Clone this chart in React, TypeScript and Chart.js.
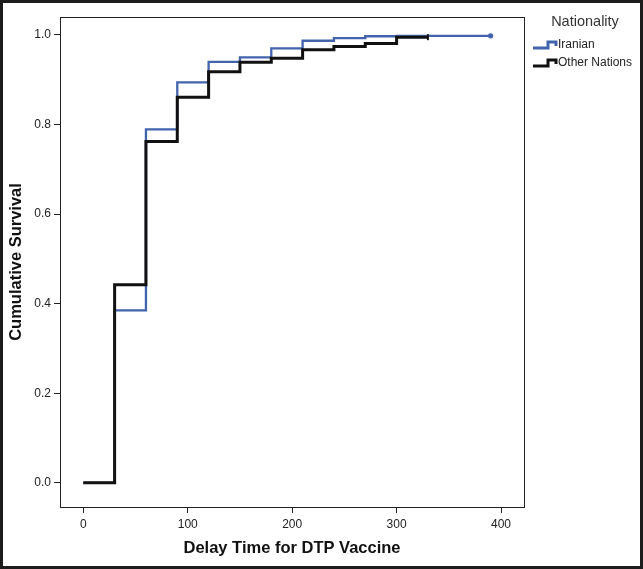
import React, { useEffect, useRef } from "react";
import { Chart, registerables } from "chart.js";

Chart.register(...registerables);

// Event times (days) at which survival steps occur
const stepTimes = [0, 30, 60, 90, 120, 150, 180, 210, 240, 270, 300];
const iranianSurvival = [0, 0.385, 0.789, 0.894, 0.94, 0.95, 0.97, 0.987, 0.993, 0.997, 0.998];
const iranianEndTime = 390;
const otherSurvival = [0, 0.442, 0.762, 0.861, 0.918, 0.939, 0.948, 0.967, 0.974, 0.981, 0.995];
const otherEndTime = 330;

const seriesNames = ["Iranian", "Other Nations"];
const seriesColors = ["#4264ad", "#111111"];
const legendTitle = "Nationality";

const xTickValues = [0, 100, 200, 300, 400];
const yTickValues = [0, 0.2, 0.4, 0.6, 0.8, 1.0];
const xTitle = "Delay Time for DTP Vaccine";
const yTitle = "Cumulative Survival";

function buildPoints(values: number[], endTime: number) {
  const pts = stepTimes.map((t, i) => ({ x: t, y: values[i] }));
  pts.push({ x: endTime, y: values[values.length - 1] });
  return pts;
}

const framePlugin = {
  id: "frameAndLegend",
  afterDatasetsDraw(chart: any) {
    const { ctx, chartArea } = chart;
    ctx.save();
    ctx.strokeStyle = "#222";
    ctx.lineWidth = 1;
    ctx.strokeRect(
      Math.round(chartArea.left) + 0.5,
      Math.round(chartArea.top) + 0.5,
      Math.round(chartArea.right - chartArea.left),
      Math.round(chartArea.bottom - chartArea.top)
    );
    ctx.restore();
  },
  afterDraw(chart: any) {
    const { ctx } = chart;
    ctx.save();
    ctx.fillStyle = "#333";
    ctx.font = "14.5px 'Liberation Sans', Arial, sans-serif";
    ctx.textAlign = "center";
    ctx.textBaseline = "middle";
    ctx.fillText(legendTitle, 582, 19);
    const rows = [42, 60];
    seriesNames.forEach((name, i) => {
      const y = rows[i];
      ctx.strokeStyle = seriesColors[i];
      ctx.lineWidth = 3;
      ctx.beginPath();
      ctx.moveTo(530, y + 3);
      ctx.lineTo(545, y + 3);
      ctx.lineTo(545, y - 3);
      ctx.lineTo(553, y - 3);
      ctx.lineTo(553, y + 1);
      ctx.stroke();
      ctx.fillStyle = "#222";
      ctx.font = "12px 'Liberation Sans', Arial, sans-serif";
      ctx.textAlign = "left";
      ctx.fillText(name, 555, y);
    });
    ctx.restore();
  },
};

export default function App() {
  const canvasRef = useRef<HTMLCanvasElement | null>(null);

  useEffect(() => {
    document.body.style.margin = "0";
    const canvas = canvasRef.current;
    if (!canvas) return;
    const iranianPts = buildPoints(iranianSurvival, iranianEndTime);
    const otherPts = buildPoints(otherSurvival, otherEndTime);
    const chart = new Chart(canvas, {
      type: "line",
      data: {
        datasets: [
          {
            label: seriesNames[1],
            data: otherPts,
            borderColor: seriesColors[1],
            backgroundColor: seriesColors[1],
            borderWidth: 3,
            stepped: "before",
            fill: false,
            pointStyle: "line",
            rotation: 90,
            pointRadius: otherPts.map((_, i) => (i === otherPts.length - 1 ? 3 : 0)),
            pointBorderWidth: 2,
          },
          {
            label: seriesNames[0],
            data: iranianPts,
            borderColor: seriesColors[0],
            backgroundColor: seriesColors[0],
            borderWidth: 2.3,
            stepped: "before",
            fill: false,
            pointRadius: iranianPts.map((_, i) => (i === iranianPts.length - 1 ? 1.5 : 0)),
          },
        ],
      },
      options: {
        responsive: false,
        animation: false,
        maintainAspectRatio: false,
        layout: { padding: { left: 0, right: 116, top: 14, bottom: 0 } },
        plugins: { legend: { display: false }, tooltip: { enabled: false } },
        scales: {
          x: {
            type: "linear",
            min: -22.3,
            max: 422,
            afterBuildTicks: (s: any) => {
              s.ticks = xTickValues.map((v) => ({ value: v }));
            },
            afterFit: (s: any) => {
              s.height = 59;
            },
            border: { display: false },
            grid: { drawOnChartArea: false, drawTicks: true, tickLength: 6, color: "#222" },
            ticks: {
              color: "#222",
              padding: 4,
              font: { family: "'Liberation Sans', Arial, sans-serif", size: 12 },
              maxRotation: 0,
            },
            title: {
              display: true,
              text: xTitle,
              color: "#111",
              font: { family: "'Liberation Sans', Arial, sans-serif", size: 16.5, weight: "bold" },
              padding: { top: 0, bottom: 8 },
            },
          },
          y: {
            type: "linear",
            min: -0.054,
            max: 1.04,
            afterBuildTicks: (s: any) => {
              s.ticks = yTickValues.map((v) => ({ value: v }));
            },
            afterFit: (s: any) => {
              s.width = 57;
            },
            border: { display: false },
            grid: { drawOnChartArea: false, drawTicks: true, tickLength: 6, color: "#222" },
            ticks: {
              color: "#222",
              padding: 3,
              font: { family: "'Liberation Sans', Arial, sans-serif", size: 12 },
              callback: (v: any) => Number(v).toFixed(1),
            },
            title: {
              display: true,
              text: yTitle,
              color: "#111",
              font: { family: "'Liberation Sans', Arial, sans-serif", size: 16.5, weight: "bold" },
              padding: { top: 4, bottom: 0 },
            },
          },
        },
      },
      plugins: [framePlugin],
    });
    return () => chart.destroy();
  }, []);

  return (
    <div
      style={{
        width: 643,
        height: 569,
        border: "3px solid #1c1c1c",
        boxSizing: "border-box",
        background: "#fff",
      }}
    >
      <canvas ref={canvasRef} width={637} height={563} style={{ display: "block", width: 637, height: 563 }} />
    </div>
  );
}
